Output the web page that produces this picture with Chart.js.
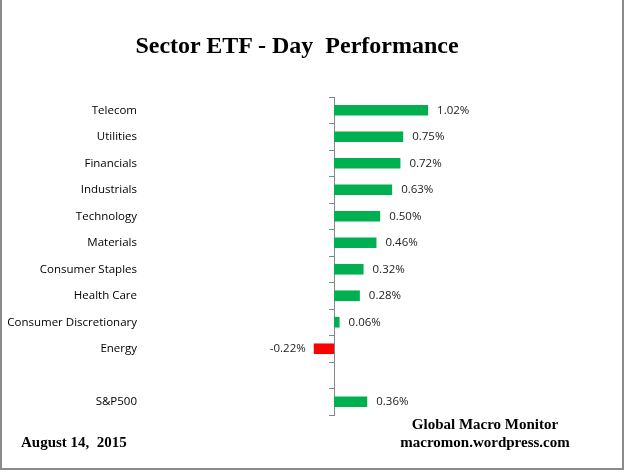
<!DOCTYPE html>
<html>
<head>
<meta charset="utf-8">
<script src="https://cdn.jsdelivr.net/npm/chart.js@4.4.1/dist/chart.umd.min.js"></script>
<style>
  html, body { margin: 0; padding: 0; background: #fff; }
  #wrap { position: relative; width: 626px; height: 472px; }
  #frame { position: absolute; left: 0; top: -2px; width: 620px; height: 470px;
           border-left: 2px solid #8a8a8a; border-right: 2px solid #8a8a8a; border-bottom: 2px solid #8a8a8a; }
  .txt { position: absolute; font-family: "Liberation Serif", "Times New Roman", serif; font-weight: bold; color: #000; white-space: pre; }
  #title { left: 0; width: 594px; top: 32px; text-align: center; font-size: 24px; }
  #date { left: 21px; top: 434px; font-size: 15px; }
  #src { left: 384px; width: 202px; top: 416px; text-align: center; font-size: 15px; line-height: 17.5px; }
</style>
</head>
<body>
<div id="wrap">
  <canvas id="chart" width="626" height="472"></canvas>
  <div id="frame"></div>
  <div class="txt" id="title">Sector ETF - Day  Performance</div>
  <div class="txt" id="date">August 14,  2015</div>
  <div class="txt" id="src">Global Macro Monitor
macromon.wordpress.com</div>
</div>
<script>
// sectors, top to bottom (blank slot before the index)
const sectors = ['Telecom', 'Utilities', 'Financials', 'Industrials', 'Technology', 'Materials',
                 'Consumer Staples', 'Health Care', 'Consumer Discretionary', 'Energy', '', 'S&P500'];
const dayChange = [1.02, 0.75, 0.72, 0.63, 0.50, 0.46, 0.32, 0.28, 0.06, -0.22, null, 0.36];

const green = '#00B050';
const red = '#FF0000';

// value labels at the end of each bar
const valueLabels = {
    id: 'valueLabels',
    afterDatasetsDraw(chart) {
        const ctx = chart.ctx;
        const meta = chart.getDatasetMeta(0);
        ctx.save();
        ctx.font = '11.5px "Open Sans", sans-serif';
        ctx.fillStyle = '#222';
        ctx.textBaseline = 'middle';
        meta.data.forEach((bar, i) => {
            const v = dayChange[i];
            if (v === null) return;
            const txt = v.toFixed(2) + '%';
            if (v >= 0) {
                ctx.textAlign = 'left';
                ctx.fillText(txt, bar.x + 9, bar.y);
            } else {
                ctx.textAlign = 'right';
                ctx.fillText(txt, bar.x - 8, bar.y);
            }
        });
        ctx.restore();
    }
};

new Chart(document.getElementById('chart'), {
    type: 'bar',
    data: {
        labels: sectors,
        datasets: [{
            data: dayChange,
            yAxisID: 'y',
            backgroundColor: dayChange.map(v => (v !== null && v < 0) ? red : green),
            barPercentage: 0.4,
            categoryPercentage: 1.0
        }]
    },
    options: {
        indexAxis: 'y',
        responsive: false,
        animation: false,
        layout: { padding: { top: 97, bottom: 57, right: 46, left: 0 } },
        plugins: { legend: { display: false }, tooltip: { enabled: false } },
        scales: {
            x: {
                display: false,
                min: -2.105,
                max: 2.668
            },
            y: {
                position: 'left',
                grid: { display: false, drawTicks: false },
                border: { display: false },
                ticks: {
                    padding: 3,
                    color: '#000',
                    font: { family: '"Open Sans", sans-serif', size: 11.5 }
                },
                afterFit(scale) { scale.width = 140; }
            },
            y2: {
                type: 'category',
                position: { x: 0 },
                offset: true,
                grid: { drawOnChartArea: false, drawTicks: true, tickLength: 5, offset: true, color: '#868686' },
                border: { display: true, color: '#868686', width: 1 },
                ticks: { display: false }
            }
        }
    },
    plugins: [valueLabels]
});
</script>
</body>
</html>
